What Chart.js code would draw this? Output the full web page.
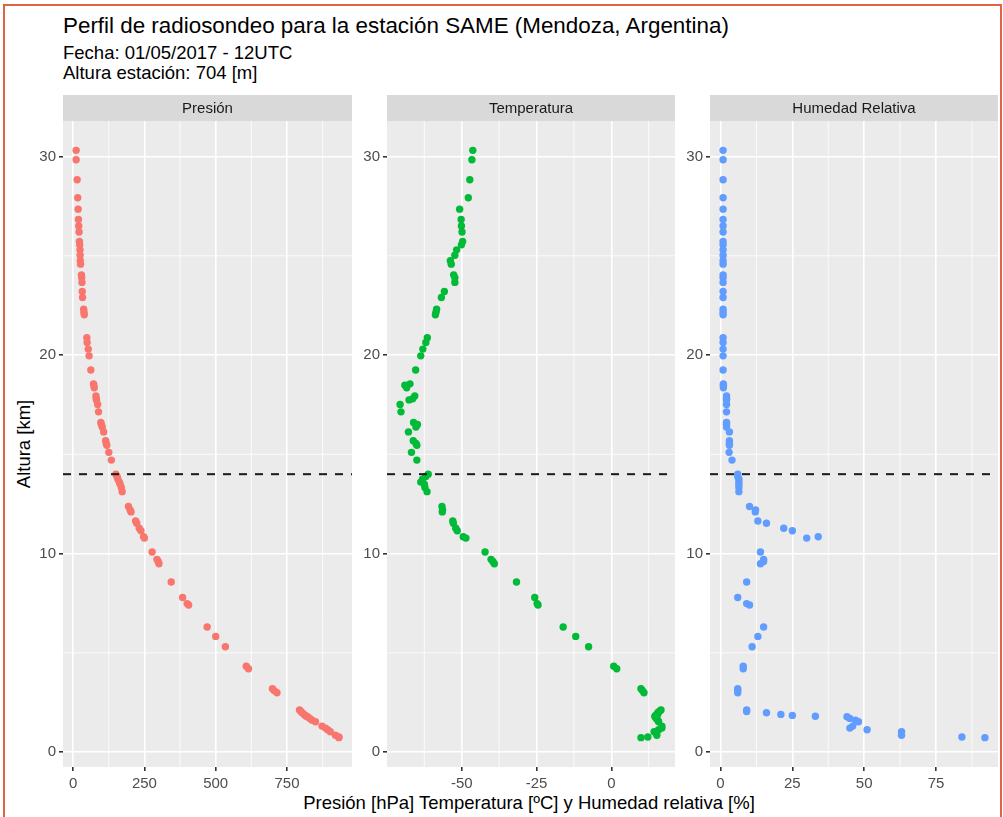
<!DOCTYPE html>
<html>
<head>
<meta charset="utf-8">
<script src="https://cdn.jsdelivr.net/npm/chart.js@4.4.1/dist/chart.umd.min.js"></script>
<style>
    body { margin: 0; background: #fff; font-family: "Liberation Sans", Arial, sans-serif; }
    #page { position: relative; width: 1003px; height: 817px; overflow: hidden; }
    #frame { position: absolute; left: 3px; top: 4px; width: 995px; height: 830px; border: 2px solid #DD6542; }
    .txt { position: absolute; white-space: nowrap; color: #000; }
    .panel { position: absolute; top: 95px; }
</style>
</head>
<body>
<div id="page">
    <div id="frame"></div>
    <div class="txt" id="title" style="left:63px; top:13px; font-size:22.4px;">Perfil de radiosondeo para la estación SAME (Mendoza, Argentina)</div>
    <div class="txt" style="left:63px; top:42px; font-size:18.5px;">Fecha: 01/05/2017 - 12UTC</div>
    <div class="txt" style="left:63px; top:62px; font-size:18.5px;">Altura estación: 704 [m]</div>
    <div class="txt" style="left:24px; top:444px; font-size:18.5px; transform: translate(-50%, -50%) rotate(-90deg);">Altura [km]</div>
    <div class="txt" style="left:529px; top:803px; font-size:18.5px; transform: translate(-50%, -50%);">Presión [hPa] Temperatura [ºC] y Humedad relativa [%]</div>
    <canvas class="panel" id="chartPresion" width="322" height="702" style="left:30px;"></canvas>
    <canvas class="panel" id="chartTemp" width="321" height="702" style="left:354px;"></canvas>
    <canvas class="panel" id="chartHumedad" width="321" height="702" style="left:677px;"></canvas>
</div>
<script>
// Radiosondeo SAME 01/05/2017 12UTC
const alturas = [30.31, 29.84, 28.83, 27.92, 27.35, 26.83, 26.5, 26.2, 25.72, 25.55, 25.3, 25.03, 24.75, 24.58, 24.04, 23.9, 23.66, 23.2, 22.9, 22.31, 22.16, 22.03, 20.87, 20.63, 20.3, 19.96, 19.25, 18.55, 18.48, 18.35, 17.94, 17.8, 17.74, 17.51, 17.14, 16.6, 16.5, 16.38, 16.13, 15.68, 15.55, 15.46, 15.1,
    14.71, 14.0, 13.88, 13.75, 13.6, 13.49, 13.33, 13.12, 12.37, 12.2, 12.1, 11.64, 11.53, 11.28, 11.15, 10.85, 10.78, 10.08, 9.71, 9.6, 9.49, 8.57, 7.79, 7.48, 7.41, 6.3, 5.83, 5.31, 4.33, 4.2, 3.19, 3.1, 2.99, 2.12, 2.05, 1.98, 1.9, 1.85, 1.81, 1.78, 1.7, 1.61, 1.53, 1.31, 1.21, 1.13, 1.03, 0.85, 0.76, 0.73];
const presion = [10.5, 10.5, 14, 16, 17.5, 18.6, 19.7, 20.8, 22, 23, 24, 24.5, 25, 26, 29, 30, 31, 32, 33, 37, 38, 39, 48, 49, 53, 56, 62, 71.5, 72.5, 74, 80, 81, 82, 86, 89, 97, 99, 102, 107, 114, 116, 118, 125,
    134, 150, 154, 157, 162, 165, 169, 172, 194, 200, 203, 219, 223, 232, 238, 247, 250, 277, 294, 298, 301, 344, 384, 400, 405, 470, 500, 534, 607, 615, 699, 705, 715, 794, 799, 803, 810, 814, 818, 822, 830, 838, 850, 873, 885, 893, 902, 920, 932, 932];
const temperatura = [-46.3, -46.6, -47.3, -47.8, -50.7, -50.2, -50.1, -49.9, -49.7, -50.1, -51.7, -52.3, -53.8, -53.5, -52.7, -52.3, -52.3, -55.8, -56.8, -58.4, -58.6, -58.8, -61.5, -62, -63, -63.7, -65.4, -67.3, -69, -68.4, -65.7, -66.4, -67.6, -70.6, -70.3, -66.1, -64.8, -65.3, -67.8, -66.2, -65.3, -65, -66.8,
    -65, -61.2, -62, -63.1, -63.7, -62.5, -62.3, -61.6, -56.6, -56.4, -56.5, -53, -52.8, -52, -51.5, -49.5, -48.6, -42.2, -40.2, -39.6, -39.1, -31.7, -25.6, -24.8, -24.5, -16.1, -11.9, -7.6, 0.8, 1.8, 9.9, 10.4, 10.9, 16.6, 16, 15.5, 15.5, 14.8, 14.6, 14.6, 15, 15.5, 15.8, 16.9, 16.9, 15.8, 14.3, 15.2, 12.2, 9.9];
const humedad = [0.9, 0.9, 0.9, 0.9, 0.9, 0.9, 0.9, 0.9, 0.9, 0.9, 0.9, 0.9, 0.9, 0.9, 0.9, 0.9, 0.9, 0.9, 0.9, 0.9, 0.9, 0.9, 0.9, 0.9, 0.9, 0.9, 0.9, 1.0, 1.0, 1.0, 2.1, 2.1, 2.1, 2.1, 2.1, 2.1, 2.1, 2.1, 3.1, 3.1, 3.1, 3.1, 3.0,
    4, 6, 6, 6.4, 6.4, 6.4, 6.4, 6.4, 10.1, 12.2, 12.1, 13, 16, 22, 25, 34, 30, 13.9, 15, 15, 13.9, 9.1, 6, 9.1, 10.1, 15, 13, 11, 7.9, 7.9, 6, 6, 6, 9.1, 9.1, 16, 21, 25, 33, 44, 45, 47, 48, 46, 45, 51, 63, 63, 84, 92];

const tropopausa = 14;
const yTicks = [0, 10, 20, 30];
const ticksPresion = [0, 250, 500, 750];
const ticksTemp = [-50, -25, 0];
const ticksHumedad = [0, 25, 50, 75];

// ggplot-like expansion of 5% on each side
function expandRange(values) {
    const lo = Math.min(...values), hi = Math.max(...values);
    const pad = (hi - lo) * 0.05;
    return { min: lo - pad, max: hi + pad };
}

function minorBreaks(ticks, range) {
    const step = ticks[1] - ticks[0];
    const out = [];
    ticks.forEach(v => {
        [v - step / 2, v + step / 2].forEach(m => {
            if (m > range.min && m < range.max && out.indexOf(m) < 0) out.push(m);
        });
    });
    return out;
}

const yRange = expandRange(alturas);

const facetPlugin = {
    id: 'facet',
    beforeDraw(chart, args, opts) {
        const { ctx, chartArea: a, scales } = chart;
        ctx.save();
        // panel background
        ctx.fillStyle = '#EBEBEB';
        ctx.fillRect(a.left, a.top, a.right - a.left, a.bottom - a.top);
        // strip
        ctx.fillStyle = '#D9D9D9';
        ctx.fillRect(a.left, 0, a.right - a.left, a.top);
        ctx.fillStyle = '#1A1A1A';
        ctx.font = '15px "Liberation Sans", Arial, sans-serif';
        ctx.textAlign = 'center';
        ctx.textBaseline = 'middle';
        ctx.fillText(opts.title, (a.left + a.right) / 2, a.top / 2 + 1);
        // minor grid
        ctx.strokeStyle = '#FFFFFF';
        ctx.lineWidth = 0.8;
        opts.xMinor.forEach(v => {
            const x = scales.x.getPixelForValue(v);
            ctx.beginPath(); ctx.moveTo(x, a.top); ctx.lineTo(x, a.bottom); ctx.stroke();
        });
        opts.yMinor.forEach(v => {
            const y = scales.y.getPixelForValue(v);
            ctx.beginPath(); ctx.moveTo(a.left, y); ctx.lineTo(a.right, y); ctx.stroke();
        });
        ctx.restore();
    },
    afterDatasetsDraw(chart) {
        const { ctx, chartArea: a, scales } = chart;
        const y = scales.y.getPixelForValue(tropopausa);
        ctx.save();
        ctx.strokeStyle = '#1A1A1A';
        ctx.lineWidth = 2;
        ctx.setLineDash([8, 8]);
        ctx.beginPath(); ctx.moveTo(a.left, y); ctx.lineTo(a.right, y); ctx.stroke();
        ctx.restore();
    }
};

function makePanel(canvasId, title, values, xTicks, color) {
    const xRange = expandRange(values);
    const points = alturas.map((h, i) => ({ x: values[i], y: h }));
    const tickFont = { family: '"Liberation Sans", Arial, sans-serif', size: 15 };
    return new Chart(document.getElementById(canvasId), {
        type: 'scatter',
        data: {
            datasets: [{
                data: points,
                backgroundColor: color,
                borderWidth: 0,
                pointRadius: 3.7,
                pointHoverRadius: 3.7
            }]
        },
        options: {
            responsive: false,
            animation: false,
            events: [],
            layout: { autoPadding: false, padding: { top: 26, left: 0, right: 0, bottom: 0 } },
            plugins: {
                legend: { display: false },
                tooltip: { enabled: false },
                facet: {
                    title: title,
                    xMinor: minorBreaks(xTicks, xRange),
                    yMinor: minorBreaks(yTicks, yRange)
                }
            },
            scales: {
                x: {
                    type: 'linear',
                    min: xRange.min,
                    max: xRange.max,
                    afterBuildTicks: scale => { scale.ticks = xTicks.map(v => ({ value: v })); },
                    afterFit: scale => { scale.height = 30; },
                    border: { display: false },
                    grid: { color: '#FFFFFF', lineWidth: 1.6, tickColor: '#333333', tickLength: 4 },
                    ticks: { color: '#4D4D4D', font: tickFont, padding: 4, maxRotation: 0 }
                },
                y: {
                    type: 'linear',
                    min: yRange.min,
                    max: yRange.max,
                    afterBuildTicks: scale => { scale.ticks = yTicks.map(v => ({ value: v })); },
                    afterFit: scale => { scale.width = 33; },
                    border: { display: false },
                    grid: { color: '#FFFFFF', lineWidth: 1.6, tickColor: '#333333', tickLength: 4 },
                    ticks: { color: '#4D4D4D', font: tickFont, padding: 3 }
                }
            }
        },
        plugins: [facetPlugin]
    });
}

makePanel('chartPresion', 'Presión', presion, ticksPresion, '#F8766D');
makePanel('chartTemp', 'Temperatura', temperatura, ticksTemp, '#00BA38');
makePanel('chartHumedad', 'Humedad Relativa', humedad, ticksHumedad, '#619CFF');
</script>
</body>
</html>
